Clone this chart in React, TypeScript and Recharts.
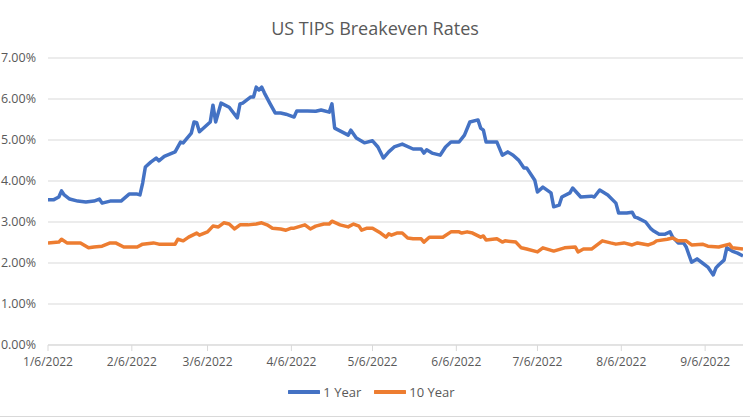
import React from "react";
import { LineChart, Line, XAxis, YAxis, CartesianGrid, Legend } from "recharts";

const YEAR = 2022;

const oneYearDates = [
  "1/6", "1/8", "1/10", "1/11", "1/12", "1/14", "1/17", "1/20", "1/23", "1/25", "1/26", "1/29",
  "2/2", "2/5", "2/8", "2/9", "2/10", "2/11", "2/13", "2/15", "2/16", "2/18", "2/22", "2/24", "2/25", "2/28",
  "3/1", "3/2", "3/3", "3/7", "3/8", "3/9", "3/11", "3/14", "3/17", "3/18", "3/19", "3/22", "3/23", "3/24", "3/25", "3/26", "3/27", "3/29", "3/31",
  "4/2", "4/4", "4/7", "4/8", "4/12", "4/15", "4/17", "4/20", "4/21", "4/22", "4/27", "4/28", "4/30",
  "5/3", "5/6", "5/8", "5/10", "5/12", "5/14", "5/17", "5/21", "5/24", "5/25", "5/26", "5/28", "5/31",
  "6/2", "6/4", "6/7", "6/9", "6/11", "6/14", "6/15", "6/16", "6/17", "6/21", "6/23", "6/25", "6/27", "6/29",
  "7/1", "7/2", "7/5", "7/6", "7/8", "7/11", "7/12", "7/14", "7/15", "7/18", "7/19", "7/22", "7/26", "7/27", "7/29",
  "8/1", "8/4", "8/5", "8/8", "8/10", "8/11", "8/12", "8/15", "8/17", "8/18", "8/20", "8/22", "8/24", "8/25", "8/27", "8/29", "8/30", "8/31",
  "9/1", "9/3", "9/5", "9/7", "9/9", "9/10", "9/11", "9/13", "9/14", "9/16", "9/18", "9/20",
];
const oneYearValues = [
  3.54, 3.54, 3.61, 3.76, 3.66, 3.56, 3.51, 3.49, 3.51, 3.56, 3.46, 3.51,
  3.51, 3.68, 3.68, 3.66, 3.95, 4.34, 4.46, 4.56, 4.49, 4.6, 4.71, 4.95, 4.93, 5.17,
  5.44, 5.42, 5.2, 5.44, 5.85, 5.44, 5.9, 5.8, 5.54, 5.88, 5.9, 6.05, 6.05, 6.29, 6.22, 6.29, 6.15, 5.9, 5.66,
  5.66, 5.63, 5.56, 5.71, 5.71, 5.7, 5.73, 5.68, 5.88, 5.29, 5.12, 5.24, 5.05,
  4.93, 4.98, 4.83, 4.56, 4.71, 4.83, 4.9, 4.78, 4.78, 4.68, 4.76, 4.68, 4.63,
  4.83, 4.95, 4.95, 5.12, 5.44, 5.49, 5.29, 5.24, 4.95, 4.95, 4.63, 4.71, 4.63, 4.51,
  4.32, 4.32, 4.02, 3.73, 3.85, 3.71, 3.37, 3.41, 3.61, 3.71, 3.83, 3.61, 3.63, 3.61, 3.78,
  3.66, 3.46, 3.22, 3.22, 3.24, 3.12, 3.1, 3.0, 2.83, 2.78, 2.7, 2.7, 2.76, 2.63, 2.49, 2.49, 2.39, 2.2,
  2.02, 2.1, 2.0, 1.9, 1.71, 1.88, 1.95, 2.07, 2.37, 2.29, 2.24, 2.17,
];

const tenYearDates = [
  "1/6", "1/10", "1/11", "1/13", "1/18", "1/21", "1/23", "1/26", "1/29", "1/31",
  "2/3", "2/8", "2/10", "2/14", "2/16", "2/22", "2/23", "2/25", "2/27",
  "3/2", "3/3", "3/6", "3/8", "3/10", "3/12", "3/14", "3/16", "3/18", "3/21", "3/24", "3/26", "3/28", "3/30",
  "4/2", "4/4", "4/6", "4/7", "4/11", "4/13", "4/15", "4/18", "4/20", "4/21", "4/24", "4/27", "4/29",
  "5/1", "5/2", "5/4", "5/6", "5/9", "5/11", "5/12", "5/13", "5/15", "5/17", "5/19", "5/21", "5/24", "5/25", "5/27",
  "6/1", "6/4", "6/7", "6/8", "6/10", "6/12", "6/15", "6/16", "6/17", "6/21", "6/23", "6/24", "6/28", "6/30",
  "7/2", "7/6", "7/8", "7/12", "7/16", "7/20", "7/21", "7/23", "7/26", "7/30",
  "8/2", "8/4", "8/7", "8/10", "8/12", "8/16", "8/18", "8/19", "8/23", "8/25", "8/27", "8/30",
  "9/1", "9/5", "9/7", "9/11", "9/15", "9/16", "9/20",
];
const tenYearValues = [
  2.49, 2.51, 2.58, 2.49, 2.49, 2.37, 2.39, 2.41, 2.49, 2.49,
  2.39, 2.39, 2.46, 2.49, 2.46, 2.46, 2.58, 2.54, 2.63,
  2.73, 2.68, 2.76, 2.9, 2.88, 2.98, 2.95, 2.83, 2.93, 2.93, 2.95, 2.98, 2.93, 2.85,
  2.83, 2.8, 2.85, 2.85, 2.93, 2.83, 2.9, 2.95, 2.95, 3.02, 2.93, 2.88, 2.95,
  2.9, 2.8, 2.85, 2.85, 2.73, 2.63, 2.71, 2.68, 2.73, 2.73, 2.61, 2.59, 2.59, 2.51, 2.63,
  2.63, 2.76, 2.76, 2.73, 2.76, 2.73, 2.63, 2.66, 2.56, 2.59, 2.51, 2.54, 2.51, 2.37,
  2.34, 2.27, 2.37, 2.29, 2.37, 2.39, 2.27, 2.34, 2.34, 2.54,
  2.49, 2.46, 2.49, 2.44, 2.49, 2.44, 2.49, 2.54, 2.58, 2.61, 2.54, 2.54,
  2.44, 2.46, 2.41, 2.39, 2.46, 2.37, 2.34,
];

const xTickDates = ["1/6", "2/6", "3/6", "4/6", "5/6", "6/6", "7/6", "8/6", "9/6"];
const yTicks = [0, 1, 2, 3, 4, 5, 6, 7];
const domainStart = "1/6";
const domainEnd = "9/20";

const toTime = (md: string) => {
  const [m, d] = md.split("/").map(Number);
  return Date.UTC(YEAR, m - 1, d);
};
const fmtDate = (t: number) => {
  const d = new Date(t);
  return `${d.getUTCMonth() + 1}/${d.getUTCDate()}/${d.getUTCFullYear()}`;
};

const oneYearData = oneYearDates.map((d, i) => ({ t: toTime(d), v: oneYearValues[i] }));
const tenYearData = tenYearDates.map((d, i) => ({ t: toTime(d), v: tenYearValues[i] }));

const FONT = "'Open Sans', sans-serif";
const TEXT = "#595959";
const GRID = "#D9D9D9";
const BLUE = "#4472C4";
const ORANGE = "#ED7D31";

const series = [
  { name: "1 Year", color: BLUE, data: oneYearData },
  { name: "10 Year", color: ORANGE, data: tenYearData },
];

const LegendContent = () => (
  <div
    style={{
      height: 24,
      display: "flex",
      justifyContent: "center",
      alignItems: "center",
      fontFamily: FONT,
      fontSize: 13,
      color: TEXT,
    }}
  >
    {series.map((s, i) => (
      <div key={s.name} style={{ display: "flex", alignItems: "center", marginLeft: i ? 13 : 0 }}>
        <svg width={32} height={6} style={{ display: "block" }}>
          <line x1={1} y1={3} x2={31} y2={3} stroke={s.color} strokeWidth={4} strokeLinecap="round" />
        </svg>
        <span style={{ marginLeft: 3 }}>{s.name}</span>
      </div>
    ))}
  </div>
);

export default function App() {
  return (
    <div style={{ position: "absolute", left: 0, top: 0, width: 750, height: 418, background: "#fff" }}>
      <div
        style={{
          position: "absolute",
          top: 15,
          left: 0,
          width: 750,
          textAlign: "center",
          fontFamily: FONT,
          fontSize: 18,
          color: TEXT,
          lineHeight: "26px",
        }}
      >
        US TIPS Breakeven Rates
      </div>
      <div style={{ position: "absolute", left: 0, top: 416, width: 750, height: 1, background: GRID }} />
      <LineChart width={750} height={418} margin={{ top: 58, right: 7, left: 0, bottom: 14 }}>
        <CartesianGrid vertical={false} stroke={GRID} strokeWidth={1} />
        <XAxis
          dataKey="t"
          type="number"
          domain={[toTime(domainStart), toTime(domainEnd)]}
          ticks={xTickDates.map(toTime)}
          tickFormatter={fmtDate}
          allowDataOverflow
          height={35}
          stroke={GRID}
          tickSize={6}
          tickMargin={6}
          tick={{ fill: TEXT, fontSize: 12, fontFamily: FONT }}
        />
        <YAxis
          type="number"
          domain={[0, 7]}
          ticks={yTicks}
          tickFormatter={(v: number) => `${v.toFixed(2)}%`}
          width={48}
          axisLine={false}
          tickLine={false}
          tickSize={6}
          tickMargin={6}
          tick={{ fill: TEXT, fontSize: 12.5, fontFamily: FONT }}
        />
        <Legend verticalAlign="bottom" content={<LegendContent />} />
        {series.map((s) => (
          <Line
            key={s.name}
            data={s.data}
            dataKey="v"
            name={s.name}
            type="linear"
            stroke={s.color}
            strokeWidth={3.5}
            strokeLinejoin="round"
            dot={false}
            activeDot={false}
            isAnimationActive={false}
          />
        ))}
      </LineChart>
    </div>
  );
}
